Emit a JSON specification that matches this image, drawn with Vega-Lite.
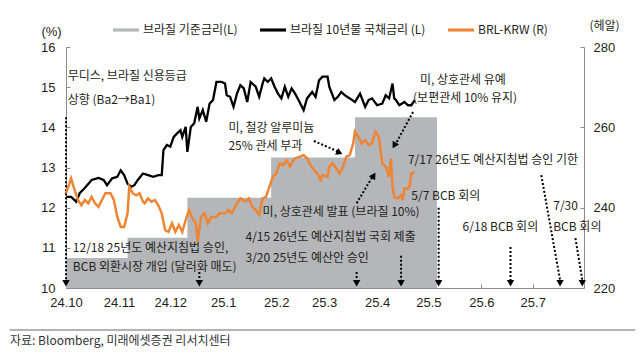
{
  "$schema": "https://vega.github.io/schema/vega-lite/v6.json",
  "width": 518,
  "height": 241,
  "autosize": {"type": "none"},
  "padding": {"left": 66, "top": 47, "right": 56, "bottom": 69},
  "background": "white",
  "config": {
    "view": {"stroke": null},
    "font": "Noto Sans CJK KR",
    "text": {"font": "Noto Sans CJK KR"}
  },
  "title": {
    "text": "자료: Bloomberg, 미래에셋증권 리서치센터",
    "orient": "bottom",
    "anchor": "start",
    "frame": "group",
    "font": "Noto Sans CJK KR",
    "fontSize": 12,
    "fontWeight": "normal",
    "color": "#333333",
    "dx": -56,
    "offset": 5
  },
  "datasets": {
    "selic": [
      {"date": "2024-10-01", "rate": 10.75},
      {"date": "2024-11-06", "rate": 11.25},
      {"date": "2024-12-11", "rate": 12.25},
      {"date": "2025-01-29", "rate": 13.25},
      {"date": "2025-03-19", "rate": 14.25},
      {"date": "2025-05-06", "rate": 14.25}
    ],
    "bond": [
      {"date": "2024-10-01", "yield": 12.27},
      {"date": "2024-10-04", "yield": 12.27},
      {"date": "2024-10-07", "yield": 12.15},
      {"date": "2024-10-09", "yield": 12.36},
      {"date": "2024-10-12", "yield": 12.49},
      {"date": "2024-10-16", "yield": 12.69},
      {"date": "2024-10-20", "yield": 12.74},
      {"date": "2024-10-23", "yield": 12.69},
      {"date": "2024-10-25", "yield": 12.56},
      {"date": "2024-10-28", "yield": 12.73},
      {"date": "2024-10-31", "yield": 12.77},
      {"date": "2024-11-02", "yield": 12.93},
      {"date": "2024-11-04", "yield": 12.81},
      {"date": "2024-11-06", "yield": 12.60},
      {"date": "2024-11-08", "yield": 12.52},
      {"date": "2024-11-10", "yield": 12.56},
      {"date": "2024-11-12", "yield": 12.69},
      {"date": "2024-11-15", "yield": 12.85},
      {"date": "2024-11-18", "yield": 12.81},
      {"date": "2024-11-21", "yield": 12.77},
      {"date": "2024-11-24", "yield": 12.81},
      {"date": "2024-11-26", "yield": 12.81},
      {"date": "2024-11-27", "yield": 13.43},
      {"date": "2024-11-29", "yield": 13.56},
      {"date": "2024-12-01", "yield": 13.52},
      {"date": "2024-12-03", "yield": 13.76},
      {"date": "2024-12-05", "yield": 13.85},
      {"date": "2024-12-07", "yield": 13.93},
      {"date": "2024-12-08", "yield": 13.76},
      {"date": "2024-12-10", "yield": 14.01},
      {"date": "2024-12-11", "yield": 13.39},
      {"date": "2024-12-13", "yield": 14.01},
      {"date": "2024-12-15", "yield": 14.10},
      {"date": "2024-12-17", "yield": 14.51},
      {"date": "2024-12-18", "yield": 14.22},
      {"date": "2024-12-20", "yield": 14.43},
      {"date": "2024-12-22", "yield": 14.14},
      {"date": "2024-12-24", "yield": 14.59},
      {"date": "2024-12-26", "yield": 14.68},
      {"date": "2024-12-28", "yield": 15.13},
      {"date": "2024-12-31", "yield": 15.13},
      {"date": "2025-01-02", "yield": 15.09},
      {"date": "2025-01-03", "yield": 14.80},
      {"date": "2025-01-05", "yield": 14.76},
      {"date": "2025-01-07", "yield": 14.51},
      {"date": "2025-01-09", "yield": 14.84},
      {"date": "2025-01-11", "yield": 15.05},
      {"date": "2025-01-13", "yield": 14.97},
      {"date": "2025-01-15", "yield": 14.63},
      {"date": "2025-01-17", "yield": 15.13},
      {"date": "2025-01-20", "yield": 15.01},
      {"date": "2025-01-22", "yield": 14.76},
      {"date": "2025-01-24", "yield": 15.09},
      {"date": "2025-01-25", "yield": 15.22},
      {"date": "2025-01-27", "yield": 15.13},
      {"date": "2025-01-29", "yield": 15.22},
      {"date": "2025-01-31", "yield": 15.01},
      {"date": "2025-02-02", "yield": 14.84},
      {"date": "2025-02-04", "yield": 14.72},
      {"date": "2025-02-06", "yield": 15.01},
      {"date": "2025-02-08", "yield": 14.76},
      {"date": "2025-02-10", "yield": 14.97},
      {"date": "2025-02-12", "yield": 14.84},
      {"date": "2025-02-14", "yield": 14.68},
      {"date": "2025-02-17", "yield": 14.43},
      {"date": "2025-02-19", "yield": 14.72},
      {"date": "2025-02-22", "yield": 14.88},
      {"date": "2025-02-24", "yield": 14.76},
      {"date": "2025-02-26", "yield": 15.17},
      {"date": "2025-02-28", "yield": 15.26},
      {"date": "2025-03-03", "yield": 15.26},
      {"date": "2025-03-04", "yield": 15.01},
      {"date": "2025-03-07", "yield": 14.68},
      {"date": "2025-03-09", "yield": 14.76},
      {"date": "2025-03-11", "yield": 14.88},
      {"date": "2025-03-13", "yield": 14.80},
      {"date": "2025-03-16", "yield": 14.72},
      {"date": "2025-03-19", "yield": 14.63},
      {"date": "2025-03-22", "yield": 14.84},
      {"date": "2025-03-25", "yield": 14.51},
      {"date": "2025-03-27", "yield": 14.68},
      {"date": "2025-03-29", "yield": 14.72},
      {"date": "2025-04-01", "yield": 14.55},
      {"date": "2025-04-04", "yield": 14.59},
      {"date": "2025-04-06", "yield": 14.80},
      {"date": "2025-04-08", "yield": 14.72},
      {"date": "2025-04-10", "yield": 15.09},
      {"date": "2025-04-11", "yield": 14.72},
      {"date": "2025-04-12", "yield": 14.68},
      {"date": "2025-04-14", "yield": 14.55},
      {"date": "2025-04-17", "yield": 14.63},
      {"date": "2025-04-19", "yield": 14.55},
      {"date": "2025-04-21", "yield": 14.55},
      {"date": "2025-04-23", "yield": 14.68}
    ],
    "brl": [
      {"date": "2024-10-01", "krw": 243.6},
      {"date": "2024-10-03", "krw": 246.0},
      {"date": "2024-10-04", "krw": 247.3},
      {"date": "2024-10-06", "krw": 244.4},
      {"date": "2024-10-08", "krw": 241.9},
      {"date": "2024-10-10", "krw": 240.6},
      {"date": "2024-10-12", "krw": 241.9},
      {"date": "2024-10-14", "krw": 241.1},
      {"date": "2024-10-16", "krw": 242.7},
      {"date": "2024-10-18", "krw": 241.1},
      {"date": "2024-10-20", "krw": 240.2},
      {"date": "2024-10-22", "krw": 241.9},
      {"date": "2024-10-24", "krw": 243.6},
      {"date": "2024-10-27", "krw": 243.6},
      {"date": "2024-10-29", "krw": 241.9},
      {"date": "2024-10-31", "krw": 237.7},
      {"date": "2024-11-02", "krw": 235.2},
      {"date": "2024-11-04", "krw": 235.2},
      {"date": "2024-11-06", "krw": 238.6},
      {"date": "2024-11-07", "krw": 245.2},
      {"date": "2024-11-09", "krw": 243.6},
      {"date": "2024-11-11", "krw": 243.1},
      {"date": "2024-11-13", "krw": 243.6},
      {"date": "2024-11-15", "krw": 241.5},
      {"date": "2024-11-16", "krw": 241.1},
      {"date": "2024-11-18", "krw": 242.3},
      {"date": "2024-11-20", "krw": 241.5},
      {"date": "2024-11-22", "krw": 241.9},
      {"date": "2024-11-24", "krw": 240.6},
      {"date": "2024-11-26", "krw": 238.6},
      {"date": "2024-11-28", "krw": 234.4},
      {"date": "2024-11-30", "krw": 234.0},
      {"date": "2024-12-02", "krw": 236.1},
      {"date": "2024-12-04", "krw": 234.0},
      {"date": "2024-12-06", "krw": 235.7},
      {"date": "2024-12-08", "krw": 234.0},
      {"date": "2024-12-10", "krw": 236.9},
      {"date": "2024-12-12", "krw": 239.4},
      {"date": "2024-12-14", "krw": 237.3},
      {"date": "2024-12-16", "krw": 236.1},
      {"date": "2024-12-17", "krw": 231.5},
      {"date": "2024-12-19", "krw": 237.7},
      {"date": "2024-12-21", "krw": 238.6},
      {"date": "2024-12-23", "krw": 236.1},
      {"date": "2024-12-25", "krw": 237.7},
      {"date": "2024-12-28", "krw": 237.7},
      {"date": "2024-12-30", "krw": 238.6},
      {"date": "2025-01-02", "krw": 238.6},
      {"date": "2025-01-04", "krw": 239.4},
      {"date": "2025-01-06", "krw": 238.6},
      {"date": "2025-01-09", "krw": 241.1},
      {"date": "2025-01-11", "krw": 242.3},
      {"date": "2025-01-14", "krw": 241.5},
      {"date": "2025-01-16", "krw": 242.3},
      {"date": "2025-01-18", "krw": 240.2},
      {"date": "2025-01-20", "krw": 239.4},
      {"date": "2025-01-22", "krw": 238.2},
      {"date": "2025-01-24", "krw": 242.3},
      {"date": "2025-01-26", "krw": 242.7},
      {"date": "2025-01-28", "krw": 245.2},
      {"date": "2025-01-30", "krw": 247.7},
      {"date": "2025-02-01", "krw": 248.5},
      {"date": "2025-02-03", "krw": 251.0},
      {"date": "2025-02-05", "krw": 250.6},
      {"date": "2025-02-07", "krw": 251.8},
      {"date": "2025-02-09", "krw": 250.2},
      {"date": "2025-02-11", "krw": 251.8},
      {"date": "2025-02-12", "krw": 252.3},
      {"date": "2025-02-15", "krw": 252.7},
      {"date": "2025-02-17", "krw": 253.1},
      {"date": "2025-02-19", "krw": 252.3},
      {"date": "2025-02-21", "krw": 250.6},
      {"date": "2025-02-23", "krw": 249.4},
      {"date": "2025-02-25", "krw": 248.5},
      {"date": "2025-02-27", "krw": 246.9},
      {"date": "2025-02-28", "krw": 248.1},
      {"date": "2025-03-03", "krw": 247.7},
      {"date": "2025-03-04", "krw": 250.2},
      {"date": "2025-03-06", "krw": 251.0},
      {"date": "2025-03-08", "krw": 249.8},
      {"date": "2025-03-10", "krw": 248.5},
      {"date": "2025-03-12", "krw": 250.2},
      {"date": "2025-03-14", "krw": 252.7},
      {"date": "2025-03-16", "krw": 253.1},
      {"date": "2025-03-18", "krw": 256.0},
      {"date": "2025-03-19", "krw": 258.9},
      {"date": "2025-03-21", "krw": 257.6},
      {"date": "2025-03-23", "krw": 256.0},
      {"date": "2025-03-25", "krw": 256.8},
      {"date": "2025-03-27", "krw": 255.6},
      {"date": "2025-03-29", "krw": 256.0},
      {"date": "2025-03-31", "krw": 258.9},
      {"date": "2025-04-02", "krw": 257.6},
      {"date": "2025-04-04", "krw": 251.0},
      {"date": "2025-04-06", "krw": 250.2},
      {"date": "2025-04-08", "krw": 247.7},
      {"date": "2025-04-09", "krw": 252.3},
      {"date": "2025-04-10", "krw": 245.2},
      {"date": "2025-04-11", "krw": 242.7},
      {"date": "2025-04-13", "krw": 242.3},
      {"date": "2025-04-15", "krw": 243.1},
      {"date": "2025-04-16", "krw": 241.9},
      {"date": "2025-04-17", "krw": 244.8},
      {"date": "2025-04-19", "krw": 244.8},
      {"date": "2025-04-20", "krw": 245.2},
      {"date": "2025-04-21", "krw": 248.5},
      {"date": "2025-04-23", "krw": 248.9}
    ],
    "notes": [
      {"date": "2024-10-02", "v": 15.27, "label": "무디스, 브라질 신용등급"},
      {"date": "2024-10-02", "v": 14.68, "label": "상향 (Ba2→Ba1)"},
      {"date": "2025-01-04", "v": 13.98, "label": "미, 철강 알루미늄"},
      {"date": "2025-01-04", "v": 13.53, "label": "25% 관세 부과"},
      {"date": "2025-04-26", "v": 15.17, "label": "미, 상호관세 유예"},
      {"date": "2025-04-22", "v": 14.73, "label": "(보편관세 10% 유지)"},
      {"date": "2025-04-19", "v": 13.18, "label": "7/17 26년도 예산지침법 승인 기한"},
      {"date": "2025-04-21", "v": 12.29, "label": "5/7 BCB 회의"},
      {"date": "2025-01-24", "v": 11.88, "label": "미, 상호관세 발표 (브라질 10%)"},
      {"date": "2025-01-14", "v": 11.27, "label": "4/15 26년도 예산지침법 국회 제출"},
      {"date": "2025-01-14", "v": 10.75, "label": "3/20 25년도 예산안 승인"},
      {"date": "2024-10-05", "v": 10.99, "label": "12/18 25년도 예산지침법 승인,"},
      {"date": "2024-10-05", "v": 10.52, "label": "BCB 외환시장 개입 (달러화 매도)"},
      {"date": "2025-05-21", "v": 11.52, "label": "6/18 BCB 회의"},
      {"date": "2025-07-13", "v": 12.04, "label": "7/30"},
      {"date": "2025-07-13", "v": 11.52, "label": "BCB 회의"}
    ],
    "arrows": [
      {"date": "2024-10-01", "v": 14.25, "date2": "2024-10-01", "v2": 10.2},
      {"date": "2024-12-18", "v": 10.4, "date2": "2024-12-18", "v2": 10.2},
      {"date": "2025-03-20", "v": 10.4, "date2": "2025-03-20", "v2": 10.2},
      {"date": "2025-04-15", "v": 10.8, "date2": "2025-04-15", "v2": 10.2},
      {"date": "2025-05-07", "v": 12.0, "date2": "2025-05-07", "v2": 10.2},
      {"date": "2025-06-18", "v": 11.02, "date2": "2025-06-18", "v2": 10.2},
      {"date": "2025-07-06", "v": 12.81, "date2": "2025-07-17", "v2": 10.2},
      {"date": "2025-07-26", "v": 11.24, "date2": "2025-07-30", "v2": 10.2},
      {"date": "2025-02-23", "v": 13.66, "date2": "2025-03-09", "v2": 13.4},
      {"date": "2025-04-22", "v": 14.38, "date2": "2025-04-12", "v2": 13.6},
      {"date": "2025-03-20", "v": 12.11, "date2": "2025-03-29", "v2": 12.75}
    ],
    "heads": [
      {"date": "2024-10-01", "v": 10.12},
      {"date": "2024-12-18", "v": 10.12},
      {"date": "2025-03-20", "v": 10.12},
      {"date": "2025-04-15", "v": 10.12},
      {"date": "2025-05-07", "v": 10.12},
      {"date": "2025-06-18", "v": 10.12},
      {"date": "2025-07-17", "v": 10.12},
      {"date": "2025-07-30", "v": 10.12}
    ],
    "headSteel": [{"date": "2025-03-10", "v": 13.37}],
    "headPause": [{"date": "2025-04-11", "v": 13.55}],
    "headAnnounce": [{"date": "2025-03-30", "v": 12.8}],
    "separator": [{"date": "2024-08-29", "v": 8.955, "date2": "2025-08-30"}]
  },
  "layer": [
    {
      "layer": [
        {
          "data": {"name": "selic"},
          "mark": {"type": "area", "interpolate": "step-after", "opacity": 1},
          "encoding": {
            "x": {
              "field": "date",
              "type": "temporal",
              "scale": {
                "type": "utc",
                "domain": [
                  {"year": 2024, "month": 10, "date": 1, "utc": true},
                  {"year": 2025, "month": 7, "date": 31, "utc": true}
                ]
              },
              "axis": {
                "values": [
                  {"year": 2024, "month": 10, "date": 1, "utc": true},
                  {"year": 2024, "month": 11, "date": 1, "utc": true},
                  {"year": 2024, "month": 12, "date": 1, "utc": true},
                  {"year": 2025, "month": 1, "date": 1, "utc": true},
                  {"year": 2025, "month": 2, "date": 1, "utc": true},
                  {"year": 2025, "month": 3, "date": 1, "utc": true},
                  {"year": 2025, "month": 4, "date": 1, "utc": true},
                  {"year": 2025, "month": 5, "date": 1, "utc": true},
                  {"year": 2025, "month": 6, "date": 1, "utc": true},
                  {"year": 2025, "month": 7, "date": 1, "utc": true}
                ],
                "format": "%y.%-m",
                "title": null,
                "grid": false,
                "domainColor": "#8c8c8c",
                "tickColor": "#8c8c8c",
                "tickSize": -4,
                "labelPadding": 12,
                "labelFont": "Liberation Sans",
                "labelFontSize": 13,
                "labelColor": "#231f20",
                "labelFlush": false
              }
            },
            "y": {
              "field": "rate",
              "type": "quantitative",
              "title": "(%)",
              "scale": {"domain": [10, 16], "zero": false, "nice": false},
              "axis": {
                "values": [10, 11, 12, 13, 14, 15, 16],
                "grid": false,
                "domainColor": "#8c8c8c",
                "tickColor": "#8c8c8c",
                "tickSize": -4,
                "labelPadding": 15,
                "labelFont": "Liberation Sans",
                "labelFontSize": 13,
                "labelColor": "#231f20",
                "titleAngle": 0,
                "titleAlign": "center",
                "titleBaseline": "middle",
                "titleX": -15,
                "titleY": -16,
                "titleFont": "Liberation Sans",
                "titleFontSize": 13,
                "titleFontWeight": "normal",
                "titleColor": "#231f20"
              }
            },
            "y2": {"datum": 10},
            "color": {
              "datum": "브라질 기준금리(L)",
              "scale": {
                "domain": ["브라질 기준금리(L)", "브라질 10년물 국채금리 (L)", "BRL-KRW (R)"],
                "range": ["#b4b6b9", "#000000", "#ef8533"]
              },
              "legend": {
                "orient": "none",
                "legendX": 47,
                "legendY": -30,
                "direction": "horizontal",
                "title": null,
                "symbolType": "M-1,-0.12H1V0.12H-1Z",
                "symbolSize": 676,
                "symbolStrokeWidth": 0,
                "labelFont": "Noto Sans CJK KR",
                "labelFontSize": 12,
                "labelColor": "#231f20",
                "labelOffset": 4,
                "columnPadding": 22,
                "encode": {
                  "symbols": {
                    "update": {
                      "shape": {"signal": "datum.value === '브라질 기준금리(L)' ? 'M-1,-0.27H1V0.27H-1Z' : 'M-1,-0.1H1V0.1H-1Z'"},
                      "fill": {"scale": "color", "field": "value"},
                      "stroke": {"value": "transparent"},
                      "opacity": {"value": 1}
                    }
                  }
                }
              }
            }
          }
        },
        {
          "data": {"name": "bond"},
          "mark": {"type": "line", "strokeWidth": 2.3},
          "encoding": {
            "x": {"field": "date", "type": "temporal"},
            "y": {"field": "yield", "type": "quantitative"},
            "color": {"datum": "브라질 10년물 국채금리 (L)"}
          }
        },
        {
          "data": {"name": "arrows"},
          "mark": {"type": "rule", "color": "#000000", "strokeWidth": 2, "strokeDash": [2, 2]},
          "encoding": {
            "x": {"field": "date", "type": "temporal"},
            "y": {"field": "v", "type": "quantitative"},
            "x2": {"field": "date2"},
            "y2": {"field": "v2"}
          }
        },
        {
          "data": {"name": "heads"},
          "mark": {"type": "point", "shape": "triangle-down", "filled": true, "color": "#000000", "size": 55, "opacity": 1},
          "encoding": {
            "x": {"field": "date", "type": "temporal"},
            "y": {"field": "v", "type": "quantitative"}
          }
        },
        {
          "data": {"name": "headSteel"},
          "mark": {"type": "point", "shape": "triangle-right", "angle": 25, "filled": true, "color": "#000000", "size": 55, "opacity": 1},
          "encoding": {
            "x": {"field": "date", "type": "temporal"},
            "y": {"field": "v", "type": "quantitative"}
          }
        },
        {
          "data": {"name": "headPause"},
          "mark": {"type": "point", "shape": "triangle-right", "angle": 120, "filled": true, "color": "#000000", "size": 55, "opacity": 1},
          "encoding": {
            "x": {"field": "date", "type": "temporal"},
            "y": {"field": "v", "type": "quantitative"}
          }
        },
        {
          "data": {"name": "headAnnounce"},
          "mark": {"type": "point", "shape": "triangle-right", "angle": -58, "filled": true, "color": "#000000", "size": 55, "opacity": 1},
          "encoding": {
            "x": {"field": "date", "type": "temporal"},
            "y": {"field": "v", "type": "quantitative"}
          }
        },
        {
          "data": {"name": "notes"},
          "mark": {"type": "text", "align": "left", "baseline": "middle", "font": "Noto Sans CJK KR", "fontSize": 12, "color": "#231f20"},
          "encoding": {
            "x": {"field": "date", "type": "temporal"},
            "y": {"field": "v", "type": "quantitative"},
            "text": {"field": "label"}
          }
        },
        {
          "data": {"name": "separator"},
          "mark": {"type": "rule", "color": "#9a9a9a", "strokeWidth": 1.5, "clip": false},
          "encoding": {
            "x": {"field": "date", "type": "temporal"},
            "x2": {"field": "date2"},
            "y": {"field": "v", "type": "quantitative"}
          }
        }
      ]
    },
    {
      "data": {"name": "brl"},
      "mark": {"type": "line", "strokeWidth": 2.5},
      "encoding": {
        "x": {"field": "date", "type": "temporal"},
        "y": {
          "field": "krw",
          "type": "quantitative",
          "title": "(헤알)",
          "scale": {"domain": [220, 280], "zero": false, "nice": false},
          "axis": {
            "orient": "right",
            "values": [220, 240, 260, 280],
            "grid": false,
            "domainColor": "#8c8c8c",
            "tickColor": "#8c8c8c",
            "tickSize": -4,
            "labelPadding": 13,
            "labelFont": "Liberation Sans",
            "labelFontSize": 13,
            "labelColor": "#231f20",
            "titleAngle": 0,
            "titleAlign": "center",
            "titleBaseline": "middle",
            "titleX": 20,
            "titleY": -22,
            "titleFont": "Noto Sans CJK KR",
            "titleFontSize": 12,
            "titleFontWeight": "normal",
            "titleColor": "#231f20"
          }
        },
        "color": {"datum": "BRL-KRW (R)"}
      }
    }
  ],
  "resolve": {"scale": {"y": "independent"}}
}
